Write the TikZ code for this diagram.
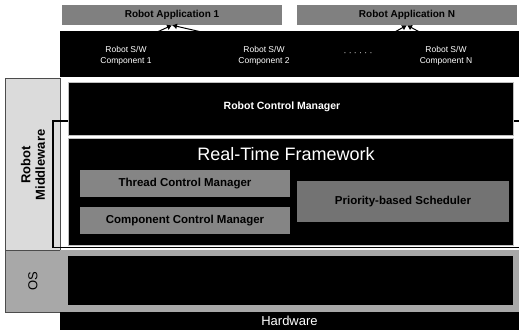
\documentclass[tikz,border=0pt]{standalone}
\usepackage{fontspec}
\setmainfont{Liberation Sans}
\usetikzlibrary{arrows.meta}
\definecolor{appgray}{gray}{0.50}
\definecolor{subgray}{gray}{0.52}
\definecolor{schedgray}{gray}{0.45}
\definecolor{mwgray}{gray}{0.86}
\definecolor{osgray}{gray}{0.66}
\definecolor{edgegray}{gray}{0.75}
\begin{document}
\begin{tikzpicture}[x=1pt,y=-1pt,
  appbox/.style={fill=appgray, inner sep=0pt, font=\fontsize{10}{12}\selectfont\bfseries, text=black},
  layerbox/.style={fill=black, draw=edgegray, line width=0.8pt, inner sep=0pt},
  subbox/.style={fill=subgray, inner sep=0pt, font=\fontsize{11.5}{13}\selectfont\bfseries, text=black},
  complabel/.style={text=white, align=center, inner sep=0pt, font=\fontsize{8.5}{11}\selectfont},
  sidebox/.style={draw=black!70, line width=0.6pt, inner sep=0pt},
  callarrow/.style={-{Latex[length=5pt,width=6pt]}, line width=1pt, black}
]
\useasboundingbox (0,0) rectangle (519,330);

% application boxes on top
\node[appbox, minimum width=220, minimum height=20] (app1) at (172,15) {Robot Application 1};
\node[appbox, minimum width=220, minimum height=20] (appN) at (407,15) {Robot Application N};

% component layer
\node[fill=black, inner sep=0pt, minimum width=459, minimum height=46] (band) at (289.5,54) {};
\node[complabel] (c1) at (126,56) {Robot S/W\\Component 1};
\node[complabel] (c2) at (264,56) {Robot S/W\\Component 2};
\node[complabel] (cdots) at (358,54) {· · · · · ·};
\node[complabel] (cN) at (446,56) {Robot S/W\\Component N};

\draw[callarrow] (c1.north) -- (app1.south);
\draw[callarrow] (c2.north) -- (app1.south);
\draw[callarrow] (cdots.north) -- (appN.south);
\draw[callarrow] (cN.north) -- (appN.south);

% side labels
\node[sidebox, fill=mwgray, minimum width=55, minimum height=172] (mw) at (32.5,164) {};
\node[sidebox, fill=osgray, minimum width=55, minimum height=62] (oscol) at (32.5,281) {};
\node[rotate=90, align=center, font=\fontsize{13}{14.5}\selectfont\bfseries] (mwlabel) at (33,165) {Robot\\Middleware};
\node[rotate=90, font=\fontsize{13}{14}\selectfont] (oslabel) at (33,281) {OS};

% middleware bracket
\draw[line width=1.6pt] (519,121) -- (53,121) -- (53,247.5) -- (519,247.5);

% robot control manager
\node[layerbox, minimum width=445, minimum height=53, font=\fontsize{11}{13}\selectfont\bfseries, text=white] (rcm) at (290.5,108.5) {};
\node[text=white, font=\fontsize{10.5}{13}\selectfont\bfseries] (rcmlabel) at (282,107) {Robot Control Manager};

% real-time framework
\node[layerbox, minimum width=445, minimum height=107] (rtf) at (290.5,191.5) {};
\node[text=white, font=\fontsize{18}{20}\selectfont] (rtflabel) at (286,154) {Real-Time Framework};
\node[subbox, minimum width=210, minimum height=27] (tcm) at (185,183.5) {Thread Control Manager};
\node[subbox, minimum width=210, minimum height=27] (ccm) at (185,220.5) {Component Control Manager};
\node[subbox, fill=schedgray, minimum width=212, minimum height=41] (pbs) at (403,201.5) {Priority-based Scheduler};

% operating system layer
\node[fill=osgray, inner sep=0pt, minimum width=459, minimum height=62] (os) at (289.5,281) {};
\node[fill=black, inner sep=0pt, minimum width=445, minimum height=49] (osin) at (290.5,280.5) {};

% hardware layer
\node[fill=black, inner sep=0pt, minimum width=459, minimum height=18, text=white, font=\fontsize{13}{14}\selectfont] (hw) at (289.5,321) {Hardware};
\end{tikzpicture}
\end{document}
